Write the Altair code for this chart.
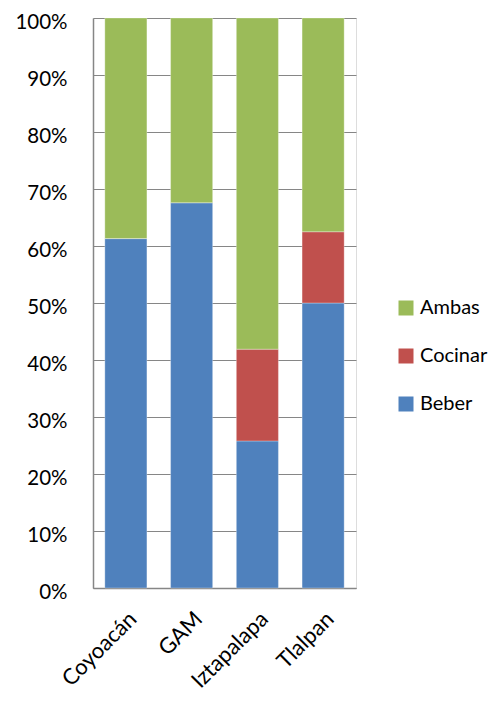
import altair as alt
import pandas as pd

categories = ["Coyoacán", "GAM", "Iztapalapa", "Tlalpan"]
series = ["Beber", "Cocinar", "Ambas"]
beber = [0.613, 0.676, 0.258, 0.500]
cocinar = [0.0, 0.0, 0.161, 0.125]
ambas = [0.387, 0.324, 0.581, 0.375]

rows = []
for i, c in enumerate(categories):
    for k, (s, vals) in enumerate(zip(series, [beber, cocinar, ambas])):
        rows.append({"cat": c, "serie": s, "val": vals[i], "ord": k})
df = pd.DataFrame(rows)

FONT = "Lato"
GRID = "#868686"

chart = alt.Chart(df).mark_bar(stroke="white", strokeWidth=0.6, strokeOpacity=0.5).encode(
    x=alt.X("cat:N", sort=categories, title=None,
            scale=alt.Scale(paddingInner=0.36, paddingOuter=0.18),
            axis=alt.Axis(labelAngle=-45, labelFontSize=22, labelFont=FONT, labelColor="black",
                          ticks=False, labelPadding=20, domainColor=GRID, domainWidth=1.5)),
    y=alt.Y("val:Q", stack="zero", title=None,
            scale=alt.Scale(domain=[0, 1], nice=False),
            axis=alt.Axis(format=".0%", values=[i / 10 for i in range(11)], labelFontSize=20.5,
                          labelFont=FONT, labelColor="black", ticks=False, labelPadding=26,
                          labelOffset=4,
                          gridColor=GRID, gridWidth=1.2, domainColor=GRID, domainWidth=1.5)),
    color=alt.Color("serie:N", title=None,
                    scale=alt.Scale(domain=["Ambas", "Cocinar", "Beber"],
                                    range=["#9BBB59", "#C0504D", "#4F81BD"]),
                    legend=alt.Legend(orient="none", legendX=303, legendY=280, symbolType="square",
                                      symbolSize=225, symbolStrokeWidth=0, labelFontSize=20,
                                      labelFont=FONT, labelColor="black", rowPadding=28,
                                      labelOffset=4, padding=0)),
    order=alt.Order("ord:Q", sort="ascending"),
).properties(
    width=263, height=570,
    autosize=alt.AutoSizeParams(type="none"),
    padding={"left": 85, "top": 10, "right": 138, "bottom": 104},
).configure_view(stroke=None).configure(background="white")

chart.save("out.html", embed_options={"renderer": "svg", "actions": False})
